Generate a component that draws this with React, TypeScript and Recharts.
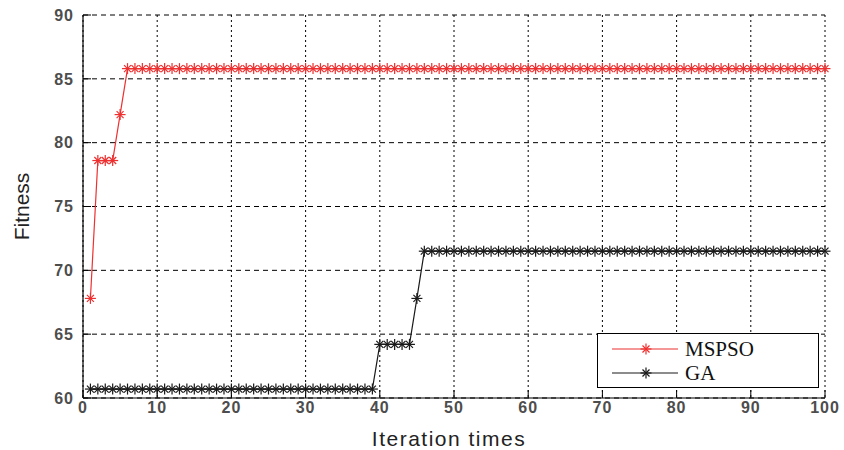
import { LineChart, Line, XAxis, YAxis, CartesianGrid, Legend } from "recharts";

// iteration index (1..100)
const iterations = [
  1, 2, 3, 4, 5, 6, 7, 8, 9, 10,
  11, 12, 13, 14, 15, 16, 17, 18, 19, 20,
  21, 22, 23, 24, 25, 26, 27, 28, 29, 30,
  31, 32, 33, 34, 35, 36, 37, 38, 39, 40,
  41, 42, 43, 44, 45, 46, 47, 48, 49, 50,
  51, 52, 53, 54, 55, 56, 57, 58, 59, 60,
  61, 62, 63, 64, 65, 66, 67, 68, 69, 70,
  71, 72, 73, 74, 75, 76, 77, 78, 79, 80,
  81, 82, 83, 84, 85, 86, 87, 88, 89, 90,
  91, 92, 93, 94, 95, 96, 97, 98, 99, 100,
];

const mspso = [
  67.8, 78.6, 78.6, 78.6, 82.2, 85.8, 85.8, 85.8, 85.8, 85.8,
  85.8, 85.8, 85.8, 85.8, 85.8, 85.8, 85.8, 85.8, 85.8, 85.8,
  85.8, 85.8, 85.8, 85.8, 85.8, 85.8, 85.8, 85.8, 85.8, 85.8,
  85.8, 85.8, 85.8, 85.8, 85.8, 85.8, 85.8, 85.8, 85.8, 85.8,
  85.8, 85.8, 85.8, 85.8, 85.8, 85.8, 85.8, 85.8, 85.8, 85.8,
  85.8, 85.8, 85.8, 85.8, 85.8, 85.8, 85.8, 85.8, 85.8, 85.8,
  85.8, 85.8, 85.8, 85.8, 85.8, 85.8, 85.8, 85.8, 85.8, 85.8,
  85.8, 85.8, 85.8, 85.8, 85.8, 85.8, 85.8, 85.8, 85.8, 85.8,
  85.8, 85.8, 85.8, 85.8, 85.8, 85.8, 85.8, 85.8, 85.8, 85.8,
  85.8, 85.8, 85.8, 85.8, 85.8, 85.8, 85.8, 85.8, 85.8, 85.8,
];

const ga = [
  60.7, 60.7, 60.7, 60.7, 60.7, 60.7, 60.7, 60.7, 60.7, 60.7,
  60.7, 60.7, 60.7, 60.7, 60.7, 60.7, 60.7, 60.7, 60.7, 60.7,
  60.7, 60.7, 60.7, 60.7, 60.7, 60.7, 60.7, 60.7, 60.7, 60.7,
  60.7, 60.7, 60.7, 60.7, 60.7, 60.7, 60.7, 60.7, 60.7, 64.2,
  64.2, 64.2, 64.2, 64.2, 67.8, 71.5, 71.5, 71.5, 71.5, 71.5,
  71.5, 71.5, 71.5, 71.5, 71.5, 71.5, 71.5, 71.5, 71.5, 71.5,
  71.5, 71.5, 71.5, 71.5, 71.5, 71.5, 71.5, 71.5, 71.5, 71.5,
  71.5, 71.5, 71.5, 71.5, 71.5, 71.5, 71.5, 71.5, 71.5, 71.5,
  71.5, 71.5, 71.5, 71.5, 71.5, 71.5, 71.5, 71.5, 71.5, 71.5,
  71.5, 71.5, 71.5, 71.5, 71.5, 71.5, 71.5, 71.5, 71.5, 71.5,
];

const xTicks = [0, 10, 20, 30, 40, 50, 60, 70, 80, 90, 100];
const yTicks = [60, 65, 70, 75, 80, 85, 90];

const RED = "#ee3030";
const DARK = "#1a1a1a";

const data = iterations.map((it, i) => ({ it, mspso: mspso[i], ga: ga[i] }));

// matlab style '*' marker: plus + small x
function Star({ cx, cy, color }: { cx?: number; cy?: number; color: string }) {
  if (cx == null || cy == null) return null;
  const h = 5.5;
  const d = 3.5;
  return (
    <g stroke={color} strokeWidth={1.2}>
      <line x1={cx - h} y1={cy} x2={cx + h} y2={cy} />
      <line x1={cx} y1={cy - h} x2={cx} y2={cy + h} />
      <line x1={cx - d} y1={cy - d} x2={cx + d} y2={cy + d} />
      <line x1={cx - d} y1={cy + d} x2={cx + d} y2={cy - d} />
    </g>
  );
}

function LegendBox() {
  const rows = [
    { name: "MSPSO", color: RED, y: 16 },
    { name: "GA", color: DARK, y: 40 },
  ];
  return (
    <svg width={222} height={55} style={{ display: "block" }}>
      <rect x={0.5} y={0.5} width={221} height={54} fill="#fff" stroke="#000" />
      {rows.map((r) => (
        <g key={r.name}>
          <line x1={15} y1={r.y} x2={81} y2={r.y} stroke={r.color} strokeWidth={1.2} />
          <Star cx={49} cy={r.y} color={r.color} />
          <text
            x={88}
            y={r.y + 7}
            fontFamily="'Liberation Serif', 'Times New Roman', serif"
            fontSize={21}
            fill="#111"
          >
            {r.name}
          </text>
        </g>
      ))}
    </svg>
  );
}

const tickStyle = {
  fill: "#4d4d4d",
  fontSize: 16,
  fontWeight: 700,
  fontFamily: "'Liberation Sans', Arial, sans-serif",
  letterSpacing: 1,
};

export default function App() {
  return (
    <div style={{ position: "absolute", left: 0, top: 0, background: "#fff" }}>
      <LineChart
        width={844}
        height={450}
        data={data}
        margin={{ top: 15, right: 19, left: 0, bottom: 0 }}
      >
        <CartesianGrid
          vertical={false}
          stroke="#000"
          strokeDasharray="5 4"
          horizontalValues={yTicks}
        />
        <CartesianGrid
          horizontal={false}
          stroke="#000"
          strokeDasharray="2 3"
          verticalValues={xTicks}
        />
        <XAxis
          dataKey="it"
          type="number"
          domain={[0, 100]}
          ticks={xTicks}
          interval={0}
          height={52}
          axisLine={{ stroke: "#000", strokeWidth: 1.2 }}
          tickLine={{ stroke: "#000" }}
          tickSize={-8}
          tickMargin={12}
          tick={tickStyle}
          label={{
            value: "Iteration times",
            position: "insideBottom",
            offset: 4,
            dx: -5,
            fill: "#222",
            fontSize: 21,
            letterSpacing: 1.5,
            fontFamily: "'Liberation Sans', Arial, sans-serif",
          }}
        />
        <YAxis
          type="number"
          domain={[60, 90]}
          ticks={yTicks}
          interval={0}
          width={83}
          axisLine={{ stroke: "#000", strokeWidth: 1.2 }}
          tickLine={{ stroke: "#000" }}
          tickSize={-8}
          tickMargin={17}
          tick={tickStyle}
          label={{
            value: "Fitness",
            angle: -90,
            position: "center",
            dx: -20,
            fill: "#222",
            fontSize: 21,
            fontFamily: "'Liberation Sans', Arial, sans-serif",
          }}
        />
        <Legend
          layout="vertical"
          align="center"
          verticalAlign="middle"
          wrapperStyle={{ left: 597, top: 333, width: 222, height: 55 }}
          content={() => <LegendBox />}
        />
        <Line
          dataKey="ga"
          name="GA"
          stroke={DARK}
          strokeWidth={1.2}
          isAnimationActive={false}
          dot={(p: any) => <Star key={`ga-${p.index}`} cx={p.cx} cy={p.cy} color={DARK} />}
          activeDot={false}
        />
        <Line
          dataKey="mspso"
          name="MSPSO"
          stroke={RED}
          strokeWidth={1.2}
          isAnimationActive={false}
          dot={(p: any) => <Star key={`ms-${p.index}`} cx={p.cx} cy={p.cy} color={RED} />}
          activeDot={false}
        />
      </LineChart>
    </div>
  );
}
